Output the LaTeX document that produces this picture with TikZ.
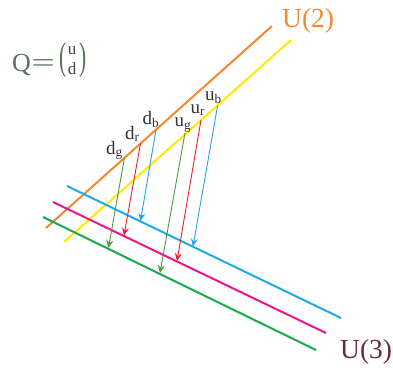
\documentclass[tikz,border=0pt]{standalone}
\usepackage{fontspec}
\setmainfont{Liberation Serif}
\usetikzlibrary{arrows.meta}
\definecolor{corange}{HTML}{F08A2C}
\definecolor{cyellow}{HTML}{FFEA00}
\definecolor{cblue}{HTML}{1DAAE6}
\definecolor{cmag}{HTML}{E8188A}
\definecolor{cgreen}{HTML}{1BAA4A}
\definecolor{agreen}{HTML}{4A9A3A}
\definecolor{ared}{HTML}{E82030}
\definecolor{ablue}{HTML}{2AA2E2}
\definecolor{qcol}{HTML}{5A735A}
\definecolor{ucol}{HTML}{6B2A3A}
\definecolor{lblcol}{HTML}{333333}
\newcommand{\bigparen}[1]{\raisebox{-4.5pt}{\fontsize{39}{39}\selectfont\scalebox{0.55}[1]{#1}}}
\tikzset{
  brane/.style={line width=2pt},
  quark/.style={line width=0.9pt,-{Stealth[length=8pt,width=7pt,inset=3pt]}},
  qlabel/.style={anchor=base west,inner sep=0pt,text=lblcol,font=\fontsize{19}{19}\selectfont},
  biglabel/.style={anchor=base west,inner sep=0pt,font=\fontsize{27.5}{27.5}\selectfont}
}
\begin{document}
\begin{tikzpicture}[x=1pt,y=-1pt]
\useasboundingbox (0,0) rectangle (393,369);
% branes
\coordinate (o1) at (46,228); \coordinate (o2) at (272,26);
\coordinate (y1) at (64,242); \coordinate (y2) at (291,40);
\coordinate (b1) at (67,186); \coordinate (b2) at (341,318);
\coordinate (m1) at (53,202); \coordinate (m2) at (326,333);
\coordinate (g1) at (43,217); \coordinate (g2) at (316,350);
\draw[brane,corange] (o1) -- (o2);
\draw[brane,cyellow] (y1) -- (y2);
\draw[brane,cblue] (b1) -- (b2);
\draw[brane,cmag] (m1) -- (m2);
\draw[brane,cgreen] (g1) -- (g2);
% arrow endpoints
\coordinate (dgs) at (124.5,157.5); \coordinate (dge) at (108.5,248);
\coordinate (drs) at (140.5,143.5); \coordinate (dre) at (124,235.5);
\coordinate (dbs) at (156,129.5);   \coordinate (dbe) at (140.5,221);
\coordinate (ugs) at (185,133);     \coordinate (uge) at (160,273);
\coordinate (urs) at (201,120);     \coordinate (ure) at (177,261);
\coordinate (ubs) at (217.5,106);   \coordinate (ube) at (193,246.5);
\draw[quark,agreen] (dgs) -- (dge);
\draw[quark,ared] (drs) -- (dre);
\draw[quark,ablue] (dbs) -- (dbe);
\draw[quark,agreen] (ugs) -- (uge);
\draw[quark,ared] (urs) -- (ure);
\draw[quark,ablue] (ubs) -- (ube);
% labels
\node[qlabel] (ldg) at (106,154) {d\textsubscript{g}};
\node[qlabel] (ldr) at (125,139) {d\textsubscript{r}};
\node[qlabel] (ldb) at (142.5,124) {d\textsubscript{b}};
\node[qlabel] (lug) at (174.5,126.5) {u\textsubscript{g}};
\node[qlabel] (lur) at (190.5,113) {u\textsubscript{r}};
\node[qlabel] (lub) at (205,100) {u\textsubscript{b}};
\node[biglabel,text=corange] (u2) at (282,28) {U(2)};
\node[biglabel,text=ucol] (u3) at (340,358) {U(3)};
% Q = (u d)
\node[anchor=base west,inner sep=0pt,text=qcol,font=\fontsize{26}{26}\selectfont] (q) at (12,71) {Q\kern0.5pt\scalebox{1.6}[1]{=}};
\node[anchor=base west,inner sep=0pt,text=qcol,font=\fontsize{17}{20}\selectfont] (qm) at (59,65.25)
  {\bigparen{(}\begin{tabular}{@{\hspace{1.5pt}}c@{\hspace{3.5pt}}}\textcolor{lblcol!70!qcol}{u}\\\textcolor{lblcol!70!qcol}{d}\end{tabular}\bigparen{)}};
\end{tikzpicture}
\end{document}
